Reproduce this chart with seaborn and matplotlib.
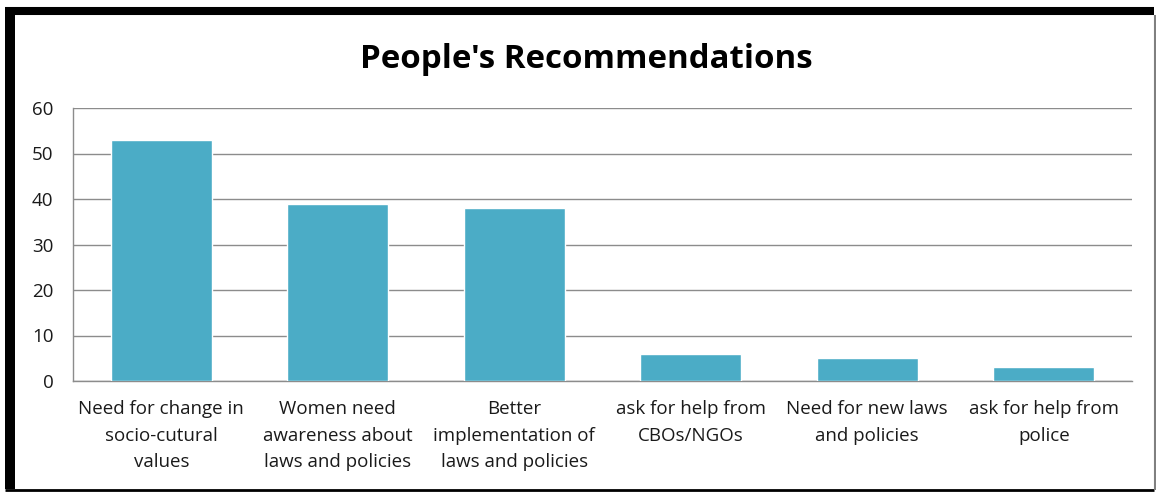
import matplotlib
matplotlib.use("Agg")
import matplotlib.pyplot as plt
import seaborn as sns
import pandas as pd
from matplotlib.lines import Line2D

# dados
categorias = [
    "Need for change in\nsocio-cutural\nvalues",
    "Women need\nawareness about\nlaws and policies",
    "Better\nimplementation of\nlaws and policies",
    "ask for help from\nCBOs/NGOs",
    "Need for new laws\nand policies",
    "ask for help from\npolice",
]
valores = [53, 39, 38, 6, 5, 3]
yticks = [0, 10, 20, 30, 40, 50, 60]

df = pd.DataFrame({"cat": categorias, "val": valores})

sns.set_style("white")
plt.rcParams["font.family"] = ["Open Sans", "DejaVu Sans"]

fig = plt.figure(figsize=(11.56, 4.93), dpi=100)
ax = fig.add_axes([73 / 1156, 1 - 381 / 493, (1132 - 73) / 1156, (381 - 108) / 493])

sns.barplot(data=df, x="cat", y="val", color="#4BACC6", saturation=1, width=0.57, ax=ax, zorder=3)

ax.set_ylim(0, 60)
ax.set_yticks(yticks)
ax.yaxis.grid(True, color="#8c8c8c", linewidth=1)
ax.set_axisbelow(True)
ax.set_xlabel("")
ax.set_ylabel("")
ax.tick_params(axis="both", length=0, labelsize=13.5, colors="#1a1a1a")
ax.tick_params(axis="y", pad=14)
ax.tick_params(axis="x", pad=14)
for lbl in ax.get_xticklabels():
    lbl.set_linespacing(1.58)
for s in ["top", "right"]:
    ax.spines[s].set_visible(False)
for s in ["left", "bottom"]:
    ax.spines[s].set_color("#8c8c8c")
    ax.spines[s].set_linewidth(1)

fig.text(586 / 1156, 1 - 59 / 493, "People's Recommendations", ha="center", va="center",
         fontsize=23.8, fontweight="bold", color="black")

# moldura
tf = fig.transFigure
fig.add_artist(Line2D([10 / 1156, 10 / 1156], [4 / 493, 1 - 7 / 493], color="black", linewidth=7.2,
                      solid_capstyle="butt", transform=tf))
fig.add_artist(Line2D([5 / 1156, 1154 / 1156], [1 - 11 / 493, 1 - 11 / 493], color="black", linewidth=5.8,
                      solid_capstyle="butt", transform=tf))
fig.add_artist(Line2D([5 / 1156, 1154 / 1156], [3 / 493, 3 / 493], color="black", linewidth=2,
                      solid_capstyle="butt", transform=tf))
fig.add_artist(Line2D([1155 / 1156, 1155 / 1156], [3 / 493, 1 - 15 / 493], color="#808080", linewidth=1.5,
                      solid_capstyle="butt", transform=tf))

fig.savefig("out.png", dpi=100)
